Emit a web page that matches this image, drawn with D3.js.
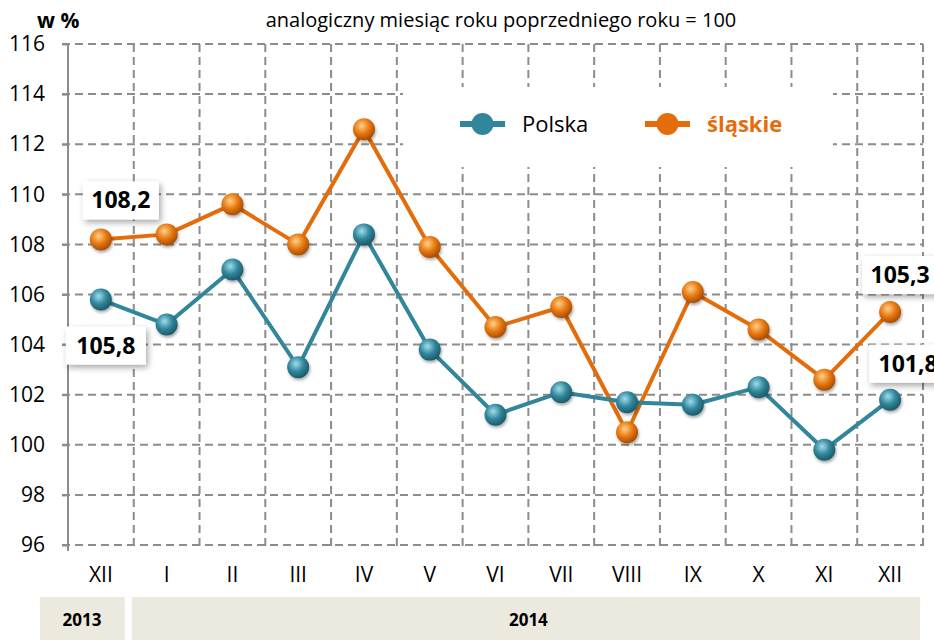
<!DOCTYPE html>
<html>
<head>
<meta charset="utf-8">
<script src="https://cdn.jsdelivr.net/npm/d3@7"></script>
<style>
  body { margin: 0; background: #fff; }
  svg { font-family: "Open Sans", "Liberation Sans", sans-serif; }
</style>
</head>
<body>
<div id="chart"></div>
<script>
// Data
const months = ["XII", "I", "II", "III", "IV", "V", "VI", "VII", "VIII", "IX", "X", "XI", "XII"];
const polska = [105.8, 104.8, 107.0, 103.1, 108.4, 103.8, 101.2, 102.1, 101.7, 101.6, 102.3, 99.8, 101.8];
const slaskie = [108.2, 108.4, 109.6, 108.0, 112.6, 107.9, 104.7, 105.5, 100.5, 106.1, 104.6, 102.6, 105.3];
const yTicks = [96, 98, 100, 102, 104, 106, 108, 110, 112, 114, 116];
const years = [{ label: "2013", from: 0, to: 0 }, { label: "2014", from: 1, to: 12 }];

const width = 934, height = 640;
const margin = { top: 44, right: 11, bottom: 95, left: 68 };

const svg = d3.select("#chart").append("svg")
  .attr("width", width)
  .attr("height", height);

const x = d3.scaleBand()
  .domain(d3.range(months.length))
  .range([margin.left, width - margin.right])
  .padding(0);

const y = d3.scaleLinear()
  .domain([96, 116])
  .range([height - margin.bottom, margin.top]);

const cx = i => x(i) + x.bandwidth() / 2;

const defs = svg.append("defs");

// shaded balls
function ball(id, light, mid, dark) {
  const g = defs.append("radialGradient")
    .attr("id", id)
    .attr("cx", "40%").attr("cy", "35%").attr("r", "65%");
  g.append("stop").attr("offset", "0%").attr("stop-color", light);
  g.append("stop").attr("offset", "55%").attr("stop-color", mid);
  g.append("stop").attr("offset", "100%").attr("stop-color", dark);
}
ball("ballBlue", "#9fdcec", "#31869b", "#1d5a6a");
ball("ballOrange", "#fdd08a", "#e8780f", "#a84d05");

const shadow = defs.append("filter").attr("id", "shadow")
  .attr("x", "-30%").attr("y", "-30%").attr("width", "170%").attr("height", "170%");
shadow.append("feDropShadow")
  .attr("dx", 2).attr("dy", 3).attr("stdDeviation", 3)
  .attr("flood-color", "#000").attr("flood-opacity", 0.35);

const dotShadow = defs.append("filter").attr("id", "dotShadow")
  .attr("x", "-50%").attr("y", "-50%").attr("width", "200%").attr("height", "200%");
dotShadow.append("feDropShadow")
  .attr("dx", 1).attr("dy", 2).attr("stdDeviation", 1.5)
  .attr("flood-color", "#000").attr("flood-opacity", 0.35);

// Grid - horizontal
svg.append("g")
  .selectAll("line")
  .data(yTicks)
  .join("line")
  .attr("x1", margin.left - 6)
  .attr("x2", width - margin.right)
  .attr("y1", d => y(d))
  .attr("y2", d => y(d))
  .attr("stroke", "#8c8c8c")
  .attr("stroke-width", 2)
  .attr("stroke-dasharray", "8,5");

// Grid - vertical at category boundaries
svg.append("g")
  .selectAll("line")
  .data(d3.range(1, months.length + 1))
  .join("line")
  .attr("x1", d => x.step() * d + margin.left)
  .attr("x2", d => x.step() * d + margin.left)
  .attr("y1", y(116))
  .attr("y2", y(96) + 6)
  .attr("stroke", "#8c8c8c")
  .attr("stroke-width", 2)
  .attr("stroke-dasharray", "8,5");

// Left axis
const yAxis = svg.append("g")
  .attr("transform", `translate(${margin.left},0)`)
  .call(d3.axisLeft(y).tickValues(yTicks).tickSize(6).tickPadding(17).tickFormat(d3.format("d")));
yAxis.attr("font-family", null).attr("font-size", null);
yAxis.select(".domain").attr("stroke", "#8c8c8c").attr("stroke-width", 2);
yAxis.selectAll(".tick line").attr("stroke", "#8c8c8c").attr("stroke-width", 2);
yAxis.selectAll("text")
  .style("font-size", "21px")
  .attr("fill", "#000");
yAxis.select(".domain").attr("d", `M0,${y(116)}V${y(96) + 6}`);

// X labels
svg.append("g")
  .selectAll("text")
  .data(months)
  .join("text")
  .attr("x", (d, i) => cx(i))
  .attr("y", y(96) + 37)
  .attr("text-anchor", "middle")
  .style("font-size", "21px")
  .attr("fill", "#000")
  .text(d => d);

// Year bands
const yearG = svg.append("g");
yearG.selectAll("rect")
  .data(years)
  .join("rect")
  .attr("x", d => d.from === 0 ? 40 : x(d.from) - 2)
  .attr("width", d => d.from === 0 ? x(1) - 9 - 40 : x(d.to) + x.bandwidth() - 3 - (x(d.from) - 2))
  .attr("y", 597)
  .attr("height", 43)
  .attr("fill", "#ece9df");
yearG.selectAll("text")
  .data(years)
  .join("text")
  .attr("x", d => d.from === 0 ? 82 : (x(d.from) + x(d.to) + x.bandwidth()) / 2)
  .attr("y", 626)
  .attr("text-anchor", "middle")
  .style("font-size", "17px")
  .attr("font-weight", "bold")
  .attr("fill", "#000")
  .text(d => d.label);

// Titles
svg.append("text")
  .attr("x", 37).attr("y", 28)
  .style("font-size", "21px").attr("font-weight", "bold")
  .text("w %");
svg.append("text")
  .attr("x", 501).attr("y", 27)
  .attr("text-anchor", "middle")
  .style("font-size", "20px")
  .text("analogiczny miesiąc roku poprzedniego roku = 100");

// Legend box
svg.append("rect")
  .attr("x", 403).attr("y", 87)
  .attr("width", 430).attr("height", 80)
  .attr("fill", "#fff");

const legend = [
  { name: "Polska", color: "#31869b", text: "#000", weight: "normal", x: 460 },
  { name: "śląskie", color: "#e46c0a", text: "#e46c0a", weight: "bold", x: 645 }
];
const lg = svg.append("g").selectAll("g").data(legend).join("g")
  .attr("transform", d => `translate(${d.x},124)`);
lg.append("line")
  .attr("x1", 0).attr("x2", 45)
  .attr("stroke", d => d.color).attr("stroke-width", 6);
lg.append("circle")
  .attr("cx", 22.5).attr("r", 11)
  .attr("fill", d => d.color);
lg.append("text")
  .attr("x", 62).attr("y", 8)
  .style("font-size", "22px")
  .attr("font-weight", d => d.weight)
  .attr("fill", d => d.text)
  .text(d => d.name);

// Lines and points
const series = [
  { values: slaskie, color: "#e46c0a", grad: "ballOrange" },
  { values: polska, color: "#31869b", grad: "ballBlue" }
];
const line = d3.line().x((d, i) => cx(i)).y(d => y(d));

series.forEach(s => {
  svg.append("path")
    .datum(s.values)
    .attr("fill", "none")
    .attr("stroke", s.color)
    .attr("stroke-width", 4)
    .attr("stroke-linejoin", "round")
    .attr("d", line);
});
series.forEach(s => {
  svg.append("g")
    .selectAll("circle")
    .data(s.values)
    .join("circle")
    .attr("cx", (d, i) => cx(i))
    .attr("cy", d => y(d))
    .attr("r", 11)
    .attr("fill", `url(#${s.grad})`)
    .attr("filter", "url(#dotShadow)");
});

// Data labels
const fmt = v => d3.format(".1f")(v).replace(".", ",");
const labels = [
  { values: slaskie, i: 0, dx: 20, dy: -39, w: 76 },
  { values: polska, i: 0, dx: 5, dy: 46, w: 80 },
  { values: slaskie, i: 12, dx: 10, dy: -37, w: 76 },
  { values: polska, i: 12, dx: 18, dy: -36, w: 78 }
];
const lab = svg.append("g").selectAll("g").data(labels).join("g")
  .attr("transform", d => `translate(${cx(d.i) + d.dx},${y(d.values[d.i]) + d.dy})`);
lab.append("rect")
  .attr("x", d => -d.w / 2).attr("y", -19)
  .attr("width", d => d.w).attr("height", 38)
  .attr("fill", "#fff")
  .attr("filter", "url(#shadow)");
lab.append("text")
  .attr("text-anchor", "middle")
  .attr("y", 8)
  .style("font-size", "23px")
  .attr("font-weight", "bold")
  .attr("fill", "#000")
  .text(d => fmt(d.values[d.i]));
</script>
</body>
</html>
